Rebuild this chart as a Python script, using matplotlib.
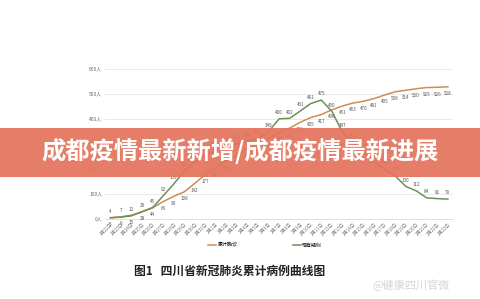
import numpy as np
import matplotlib.pyplot as plt
from matplotlib.patches import Rectangle

plt.rcParams['font.family'] = ['Noto Sans CJK SC', 'DejaVu Sans']

# 日期 1月22日 - 2月23日
dates = ['1月{}日'.format(d) for d in range(22, 32)] + ['2月{}日'.format(d) for d in range(1, 24)]
# 累计确诊
confirmed = [5, 8, 15, 28, 44, 69, 90, 108, 142, 177, 207, 231, 254, 282, 301, 321, 344,
             363, 386, 405, 417, 436, 451, 463, 470, 481, 495, 508, 514, 520, 525, 526, 528]
# 现有疑似
suspected = [4, 7, 12, 29, 45, 92, 139, 191, 228, 254, 275, 290, 300, 310, 320, 349, 400,
             402, 431, 461, 475, 430, 347, 305, 263, 229, 199, 172, 130, 112, 84, 81, 79]
yticks = [0, 100, 200, 300, 400, 500, 600]

c_conf = '#cf8d52'
c_susp = '#6a9158'

fig = plt.figure(figsize=(4.8, 2.99), dpi=100)
ax = fig.add_axes([0.219, 0.268, 0.725, 0.502])

x = np.arange(len(dates))
ax.plot(x, confirmed, color=c_conf, lw=1.1, label='累计确诊')
ax.plot(x, suspected, color=c_susp, lw=1.1, label='现有疑似')

for i in x:
    ax.annotate(str(confirmed[i]), (i, confirmed[i]), xytext=(0, -5), textcoords='offset points',
                ha='center', va='center', fontsize=3.3, color='#555555')
    ax.annotate(str(suspected[i]), (i, suspected[i]), xytext=(0, 4.5), textcoords='offset points',
                ha='center', va='center', fontsize=3.3, color='#555555')

ax.set_xlim(-0.5, len(dates) - 0.5)
ax.set_ylim(0, 600)
ax.set_yticks(yticks)
ax.set_yticklabels(['{}人'.format(v) for v in yticks], fontsize=3.5, color='#666666')
ax.set_xticks(x)
ax.set_xticklabels(dates, rotation=45, ha='right', rotation_mode='anchor', fontsize=3.2, color='#777777')
ax.tick_params(length=0, pad=2)
ax.grid(axis='y', color='#e6e6e6', lw=0.6)
ax.set_axisbelow(True)
for s in ['top', 'right', 'left']:
    ax.spines[s].set_visible(False)
ax.spines['bottom'].set_color('#d9d9d9')
ax.spines['bottom'].set_linewidth(0.6)

ax.legend(loc='upper center', bbox_to_anchor=(0.46, -0.13), ncol=2, frameon=False,
          fontsize=3.6, handlelength=1.6, columnspacing=11, handletextpad=0.3)

fig.text(0.28, 0.093, '图1   四川省新冠肺炎累计病例曲线图', fontsize=8.5, fontweight='bold',
         color='#222222', va='center', ha='left')
fig.text(0.775, 0.045, '@健康四川官微', fontsize=8, color='#d4d4d4', va='center', ha='left')

# 横幅
fig.patches.append(Rectangle((0, 0.408), 1, 0.165, transform=fig.transFigure,
                             facecolor='#e4735c', alpha=0.93, zorder=5))
fig.text(0.5, 0.495, '成都疫情最新新增/成都疫情最新进展', fontsize=17.5, fontweight='bold',
         color='white', ha='center', va='center', zorder=6)

fig.savefig('out.png', dpi=100)
